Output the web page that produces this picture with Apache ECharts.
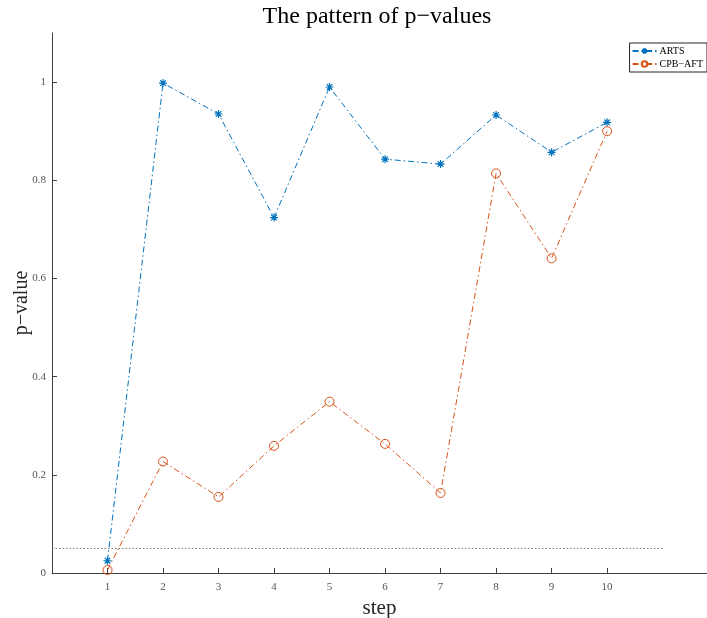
<!DOCTYPE html>
<html>
<head>
<meta charset="utf-8">
<script src="https://cdn.jsdelivr.net/npm/echarts@6/dist/echarts.min.js"></script>
<style>
  html, body { margin: 0; padding: 0; background: #fff; }
  #chart { width: 707px; height: 618px; }
</style>
</head>
<body>
<div id="chart"></div>
<script>
const steps = [1, 2, 3, 4, 5, 6, 7, 8, 9, 10]
const arts = [0.025, 0.998, 0.935, 0.724, 0.99, 0.843, 0.833, 0.933, 0.857, 0.918]
const cpbAft = [0.006, 0.227, 0.155, 0.259, 0.349, 0.263, 0.163, 0.814, 0.641, 0.9]
const threshold = 0.05
const thresholdRange = [0, 11]
const yTicks = [0, 0.2, 0.4, 0.6, 0.8, 1]

const serif = '"Liberation Serif", "DejaVu Serif", serif'
const blue = '#0072BD'
const orange = '#D95319'
const axisColor = '#404040'

const starPath = 'path://M0,-5L0,5M-5,0L5,0M-3.5,-3.5L3.5,3.5M-3.5,3.5L3.5,-3.5'

const chart = echarts.init(document.getElementById('chart'))

const option = {
  animation: false,
  backgroundColor: '#fff',
  grid: { left: 52, right: 0, top: 33, bottom: 45, outerBoundsMode: 'none', containLabel: false },
  graphic: [{
    type: 'text',
    x: 377,
    y: 17,
    style: {
      text: 'The pattern of p\u2212values',
      font: '24px ' + serif,
      fill: '#000',
      align: 'center',
      verticalAlign: 'middle'
    }
  }],
  legend: {
    orient: 'vertical',
    right: 0,
    top: 43,
    data: ['ARTS', 'CPB\u2212AFT'],
    backgroundColor: '#fff',
    borderColor: '#262626',
    borderWidth: 1,
    borderRadius: 0,
    padding: [3, 4, 3, 2],
    itemGap: 3,
    itemWidth: 24,
    itemHeight: 7,
    textStyle: { fontFamily: serif, fontSize: 10, color: '#000', padding: [0, 0, 0, -2] }
  },
  xAxis: {
    type: 'value',
    min: 0,
    max: 11.8,
    interval: 1,
    name: 'step',
    nameLocation: 'middle',
    nameGap: 25,
    nameTextStyle: { fontFamily: serif, fontSize: 21, color: '#262626' },
    axisLine: { lineStyle: { color: axisColor, width: 1 } },
    axisTick: { inside: true, length: 5, customValues: steps, lineStyle: { color: axisColor } },
    axisLabel: { customValues: steps, fontFamily: serif, fontSize: 11, color: '#555', margin: 9 },
    splitLine: { show: false }
  },
  yAxis: {
    type: 'value',
    min: 0,
    max: 1.1,
    interval: 0.2,
    name: 'p\u2212value',
    nameLocation: 'middle',
    nameGap: 20,
    nameMoveOverlap: false,
    nameTextStyle: { fontFamily: serif, fontSize: 20, color: '#262626' },
    axisLine: { show: true, lineStyle: { color: axisColor, width: 1 } },
    axisTick: { show: true, inside: true, length: 5, customValues: yTicks, lineStyle: { color: axisColor } },
    axisLabel: {
      customValues: yTicks,
      fontFamily: serif, fontSize: 11, color: '#555', margin: 6,
      formatter: v => String(+v.toFixed(1))
    },
    splitLine: { show: false }
  },
  series: [
    {
      name: 'ARTS',
      type: 'line',
      data: steps.map((s, i) => [s, arts[i]]),
      symbol: starPath,
      symbolSize: 8,
      itemStyle: { color: blue, borderColor: blue, borderWidth: 1.2 },
      lineStyle: { color: blue, width: 1, type: [6, 3, 1.5, 3] }
    },
    {
      name: 'CPB\u2212AFT',
      type: 'line',
      data: steps.map((s, i) => [s, cpbAft[i]]),
      symbol: 'circle',
      symbolSize: 9,
      itemStyle: { color: 'rgba(255,255,255,0)', borderColor: orange, borderWidth: 1 },
      lineStyle: { color: orange, width: 1, type: [6, 3, 1.5, 3] }
    },
    {
      name: 'threshold',
      type: 'line',
      data: thresholdRange.map(x => [x, threshold]),
      symbol: 'none',
      silent: true,
      lineStyle: { color: '#777', width: 1, type: [1.5, 2] }
    }
  ]
}

chart.setOption(option)
</script>
</body>
</html>
